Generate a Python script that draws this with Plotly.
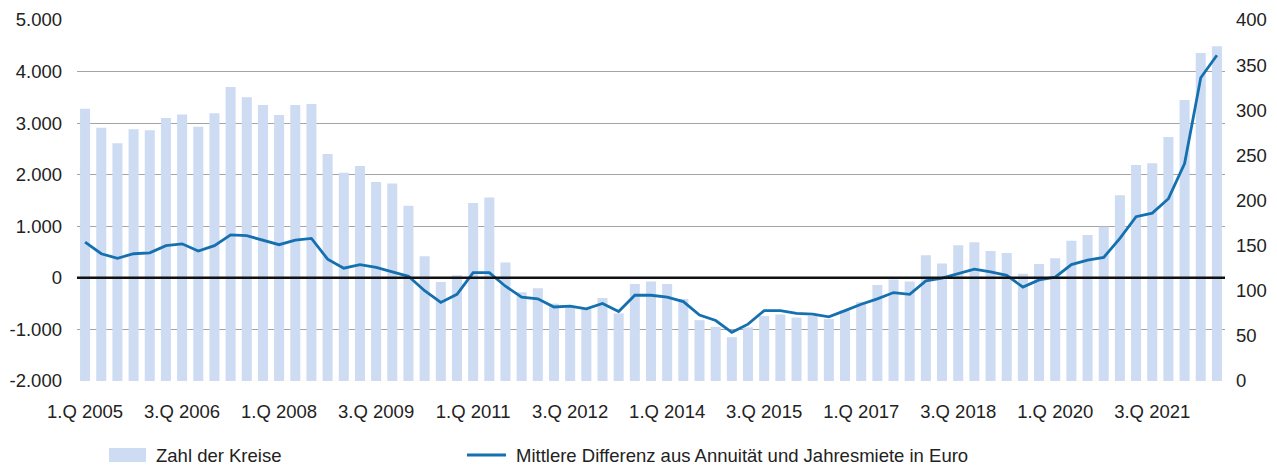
import plotly.graph_objects as go

# Quarters 1.Q 2005 .. 3.Q 2022
quarters = [f"{q}.Q {y}" for y in range(2005, 2023) for q in range(1, 5)][:71]

zahl_der_kreise = [
    3280, 2910, 2610, 2880, 2860, 3100, 3170, 2930, 3190, 3700,
    3500, 3350, 3160, 3350, 3370, 2400, 2040, 2170, 1860, 1830,
    1400, 420, -80, 50, 1450, 1560, 300, -280, -200, -500,
    -560, -600, -390, -690, -120, -70, -120, -410, -820, -950,
    -1150, -960, -740, -710, -770, -740, -800, -630, -470, -140,
    -30, -70, 440, 280, 630, 690, 520, 480, 80, 270,
    380, 720, 830, 990, 1600, 2190, 2220, 2730, 3450, 4360,
    4490,
]

mittlere_differenz = [
    154, 141, 136, 141, 142, 150, 152, 144, 150, 162,
    161, 156, 151, 156, 158, 135, 125, 129, 126, 121,
    116, 100, 87, 96, 120, 120, 105, 93, 91, 82,
    83, 80, 86, 77, 95, 95, 93, 88, 73, 67,
    54, 63, 78, 78, 75, 74, 71, 78, 85, 91,
    98, 96, 111, 114, 119, 124, 121, 117, 104, 112,
    115, 129, 134, 137, 158, 182, 186, 202, 241, 336,
    361,
]

left_tickvals = [-2000, -1000, 0, 1000, 2000, 3000, 4000, 5000]
left_ticktext = ["-2.000", "-1.000", "0", "1.000", "2.000", "3.000", "4.000", "5.000"]
right_tickvals = [0, 50, 100, 150, 200, 250, 300, 350, 400]
x_tick_labels = quarters[::6]

BAR_COLOR = "#cddcf2"
LINE_COLOR = "#1570b0"
FONT = "Liberation Sans, Arial, sans-serif"
TXT = "#222222"
FS = 18.5
BASE = -2000

# page body has an 8px margin; plot area target: x 77..1225, y 20..381
OFF = 8
PL, PR, PT, PB = 77, 1225, 20, 381
W, H = 1277 - OFF, 468 - OFF
PW, PH = PR - PL, PB - PT


def px_x(x):
    return (x - PL) / PW


def px_y(y):
    return (PB - y) / PH


fig = go.Figure()
fig.add_trace(go.Bar(
    x=quarters,
    y=[v - BASE for v in zahl_der_kreise],
    base=BASE,
    marker=dict(color=BAR_COLOR, line=dict(width=0)),
    width=0.62,
    name="Zahl der Kreise",
    yaxis="y",
    showlegend=False,
))
fig.add_trace(go.Scatter(
    x=quarters,
    y=mittlere_differenz,
    mode="lines",
    line=dict(color=LINE_COLOR, width=2.8),
    name="Mittlere Differenz aus Annuität und Jahresmiete in Euro",
    yaxis="y2",
    showlegend=False,
))

# zero line of the left axis above the bars
fig.add_shape(type="line", xref="paper", yref="y", x0=0, x1=1, y0=0, y1=0,
              line=dict(color="#111111", width=2.5), layer="above")

# manual legend
fig.add_shape(type="rect", xref="paper", yref="paper",
              x0=px_x(109), x1=px_x(146), y0=px_y(448), y1=px_y(462),
              fillcolor=BAR_COLOR, line=dict(width=0))
fig.add_annotation(text="Zahl der Kreise", xref="paper", yref="paper",
                   x=px_x(154), y=px_y(455),
                   xanchor="left", yanchor="middle", showarrow=False,
                   font=dict(size=FS, color=TXT, family=FONT))
fig.add_shape(type="line", xref="paper", yref="paper",
              x0=px_x(467), x1=px_x(506), y0=px_y(455), y1=px_y(455),
              line=dict(color=LINE_COLOR, width=3))
fig.add_annotation(text="Mittlere Differenz aus Annuität und Jahresmiete in Euro",
                   xref="paper", yref="paper",
                   x=px_x(514), y=px_y(455),
                   xanchor="left", yanchor="middle", showarrow=False,
                   font=dict(size=FS, color=TXT, family=FONT))

fig.update_layout(
    template="none",
    width=W, height=H,
    margin=dict(l=PL - OFF, r=W - (PR - OFF), t=PT - OFF, b=H - (PB - OFF),
                pad=0, autoexpand=False),
    paper_bgcolor="white", plot_bgcolor="white",
    font=dict(family=FONT, size=FS, color=TXT),
    showlegend=False,
    xaxis=dict(
        type="category",
        categoryorder="array", categoryarray=quarters,
        range=[-0.5, 70.5],
        tickvals=x_tick_labels, ticktext=x_tick_labels,
        showgrid=False, zeroline=False, showline=False,
        ticks="", ticklabelstandoff=17, automargin=False,
        tickfont=dict(size=FS, color=TXT, family=FONT),
    ),
    yaxis=dict(
        range=[-2000, 5000],
        tickvals=left_tickvals, ticktext=left_ticktext,
        showgrid=True, gridcolor="#a4a4a4", gridwidth=1,
        zeroline=False, showline=False, ticks="",
        ticklabelstandoff=14, automargin=False,
        tickfont=dict(size=FS, color=TXT, family=FONT),
    ),
    yaxis2=dict(
        range=[0, 400], overlaying="y", side="right",
        tickvals=right_tickvals,
        showgrid=False, zeroline=False, showline=False, ticks="",
        ticklabelstandoff=10, automargin=False,
        tickfont=dict(size=FS, color=TXT, family=FONT),
    ),
)

fig.write_html("out.html")
